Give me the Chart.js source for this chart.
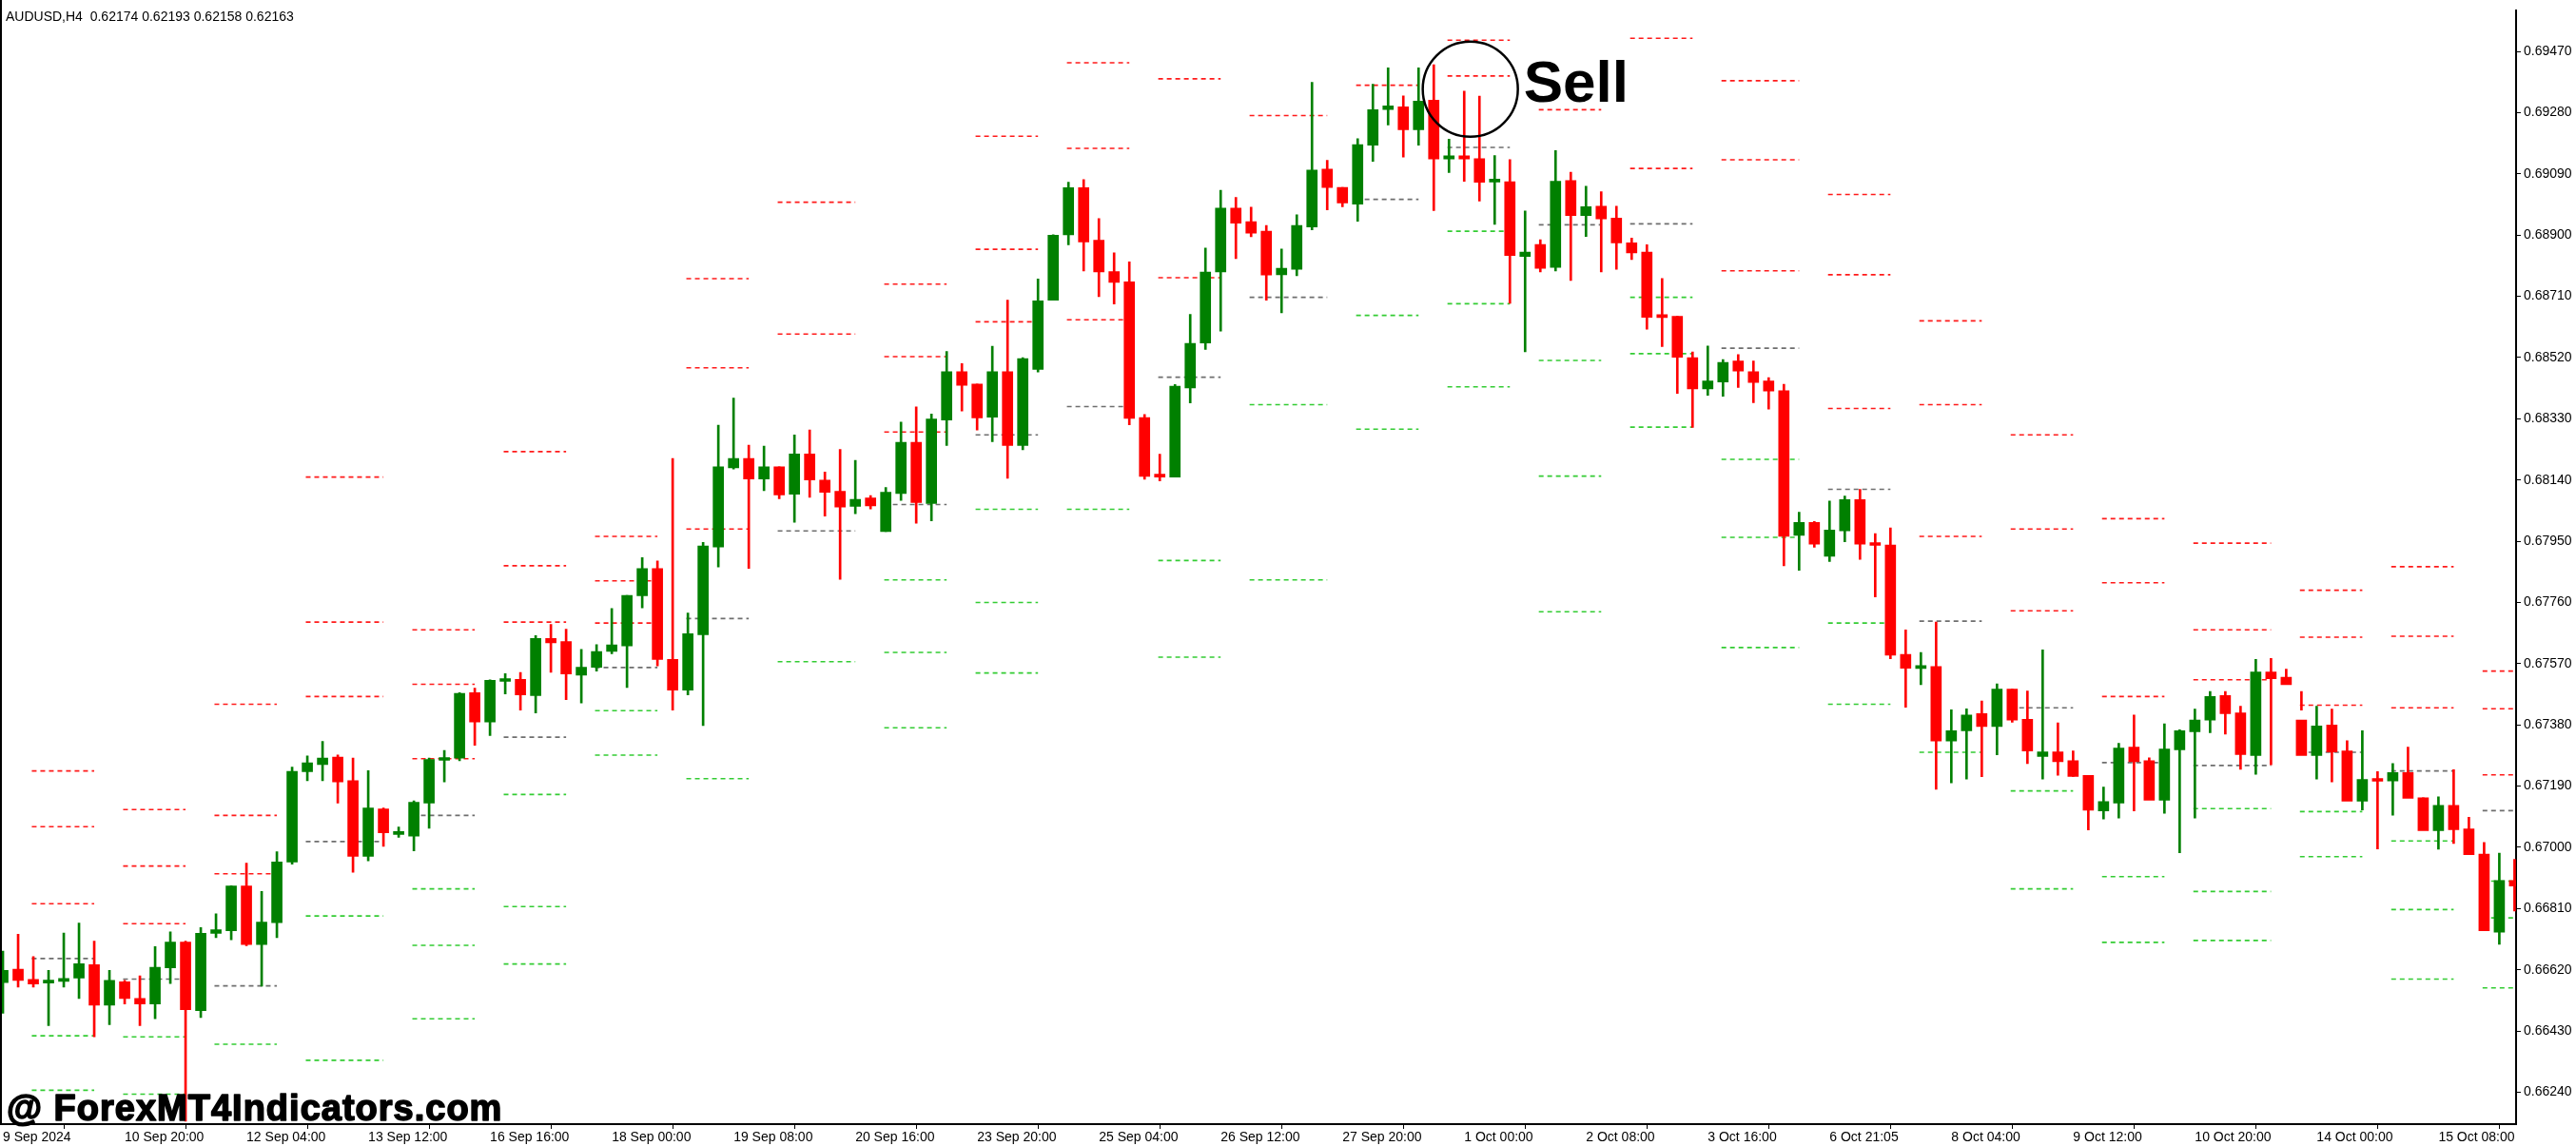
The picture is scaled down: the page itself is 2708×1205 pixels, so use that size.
<!DOCTYPE html>
<html><head><meta charset="utf-8">
<script src="https://cdn.jsdelivr.net/npm/chart.js@4"></script>
<style>html,body{margin:0;padding:0;background:#fff;}#wrap{width:2708px;height:1205px;position:relative;}</style>
</head><body><div id="wrap"><canvas id="c" width="2708" height="1205"></canvas></div>
<script>
const title = "AUDUSD,H4  0.62174 0.62193 0.62158 0.62163";
const watermark = "@ ForexMT4Indicators.com";
const signalText = "Sell";
const signalBar = 96.4, signalPrice = 0.69353;

const xTickBars = [0,8,16,24,32,40,48,56,64,72,80,88,96,104,112,120,128,136,144,152,160];
const xTickLabels = ["9 Sep 2024","10 Sep 20:00","12 Sep 04:00","13 Sep 12:00","16 Sep 16:00","18 Sep 00:00","19 Sep 08:00","20 Sep 16:00","23 Sep 20:00","25 Sep 04:00","26 Sep 12:00","27 Sep 20:00","1 Oct 00:00","2 Oct 08:00","3 Oct 16:00","6 Oct 21:05","8 Oct 04:00","9 Oct 12:00","10 Oct 20:00","14 Oct 00:00","15 Oct 08:00"];
const yTicks = [0.69470,0.69280,0.69090,0.68900,0.68710,0.68520,0.68330,0.68140,0.67950,0.67760,0.67570,0.67380,0.67190,0.67000,0.66810,0.66620,0.66430,0.66240];

const openP = [0.66580,0.66622,0.66590,0.66579,0.66584,0.66594,0.66636,0.66510,0.66583,0.66531,0.66514,0.66626,0.66706,0.66493,0.66733,0.66741,0.66880,0.66698,0.66766,0.66954,
0.67235,0.67257,0.67280,0.67207,0.66972,0.67119,0.67040,0.67035,0.67137,0.67270,0.67277,0.67480,0.67389,0.67515,0.67521,0.67471,0.67648,0.67639,0.67534,0.67559,
0.67608,0.67625,0.67781,0.67865,0.67583,0.67488,0.67660,0.67932,0.68178,0.68207,0.68143,0.68181,0.68096,0.68221,0.68140,0.68105,0.68058,0.68084,0.67980,0.68098,
0.68257,0.68067,0.68326,0.68476,0.68438,0.68335,0.68476,0.68247,0.68483,0.68698,0.68901,0.69047,0.68884,0.68787,0.68755,0.68334,0.68155,0.68149,0.68426,0.68565,
0.68786,0.68984,0.68942,0.68912,0.68777,0.68794,0.68925,0.69105,0.69048,0.68996,0.69179,0.69290,0.69298,0.69227,0.69319,0.69136,0.69146,0.69137,0.69065,0.69066,
0.68834,0.68871,0.68800,0.69069,0.68961,0.68990,0.68953,0.68876,0.68847,0.68651,0.68648,0.68520,0.68423,0.68444,0.68509,0.68476,0.68447,0.68417,0.67968,0.68008,
0.67903,0.67982,0.68079,0.67941,0.67938,0.67599,0.67555,0.67561,0.67330,0.67362,0.67415,0.67375,0.67491,0.67397,0.67282,0.67296,0.67269,0.67223,0.67113,0.67137,
0.67311,0.67269,0.67146,0.67303,0.67359,0.67395,0.67471,0.67417,0.67285,0.67544,0.67528,0.67395,0.67285,0.67380,0.67299,0.67143,0.67209,0.67206,0.67232,0.67154,
0.67052,0.67130,0.67057,0.66979,0.66737,0.66897];
const highP = [0.66678,0.66730,0.66661,0.66618,0.66734,0.66765,0.66709,0.66618,0.66587,0.66601,0.66692,0.66738,0.66709,0.66751,0.66794,0.66881,0.66951,0.66863,0.66986,0.67249,
0.67284,0.67329,0.67287,0.67277,0.67238,0.67122,0.67063,0.67144,0.67277,0.67301,0.67480,0.67494,0.67520,0.67539,0.67543,0.67657,0.67692,0.67677,0.67614,0.67629,
0.67741,0.67782,0.67899,0.67889,0.68207,0.67727,0.67946,0.68310,0.68394,0.68248,0.68245,0.68181,0.68280,0.68295,0.68165,0.68235,0.68201,0.68092,0.68117,0.68320,
0.68367,0.68345,0.68539,0.68501,0.68438,0.68555,0.68698,0.68520,0.68764,0.68901,0.69064,0.69072,0.68951,0.68845,0.68817,0.68343,0.68220,0.68436,0.68654,0.68860,
0.69039,0.69017,0.68987,0.68930,0.68857,0.68963,0.69374,0.69132,0.69048,0.69199,0.69368,0.69419,0.69332,0.69419,0.69429,0.69198,0.69347,0.69331,0.69147,0.69134,
0.68975,0.68886,0.69162,0.69095,0.69052,0.69035,0.68990,0.68891,0.68870,0.68765,0.68648,0.68537,0.68556,0.68514,0.68529,0.68509,0.68458,0.68437,0.68040,0.68011,
0.68075,0.68090,0.68111,0.67974,0.67991,0.67675,0.67605,0.67699,0.67427,0.67430,0.67454,0.67507,0.67491,0.67485,0.67613,0.67386,0.67299,0.67223,0.67187,0.67323,
0.67411,0.67278,0.67383,0.67365,0.67429,0.67484,0.67484,0.67438,0.67583,0.67586,0.67553,0.67426,0.67438,0.67429,0.67331,0.67362,0.67235,0.67260,0.67311,0.67154,
0.67157,0.67241,0.67093,0.67015,0.66982,0.66963];
const lowP = [0.66485,0.66566,0.66566,0.66447,0.66566,0.66531,0.66412,0.66450,0.66514,0.66447,0.66468,0.66577,0.66150,0.66472,0.66720,0.66713,0.66695,0.66569,0.66720,0.66948,
0.67207,0.67207,0.67137,0.66923,0.66958,0.67003,0.67031,0.66989,0.67059,0.67203,0.67269,0.67317,0.67347,0.67476,0.67426,0.67417,0.67543,0.67458,0.67448,0.67547,
0.67601,0.67496,0.67743,0.67563,0.67426,0.67473,0.67378,0.67870,0.68174,0.67866,0.68107,0.68082,0.68009,0.68086,0.68028,0.67832,0.68035,0.68050,0.67980,0.68077,
0.68006,0.68013,0.68247,0.68354,0.68295,0.68259,0.68145,0.68234,0.68475,0.68698,0.68870,0.68789,0.68709,0.68686,0.68311,0.68142,0.68137,0.68149,0.68379,0.68545,
0.68602,0.68827,0.68895,0.68698,0.68659,0.68774,0.68916,0.68978,0.68988,0.68943,0.69129,0.69242,0.69142,0.69179,0.68976,0.69094,0.69067,0.69006,0.68933,0.68688,
0.68538,0.68786,0.68789,0.68759,0.68896,0.68786,0.68794,0.68824,0.68608,0.68554,0.68409,0.68303,0.68403,0.68400,0.68427,0.68380,0.68360,0.67874,0.67860,0.67931,
0.67887,0.67948,0.67894,0.67777,0.67585,0.67435,0.67505,0.67180,0.67200,0.67212,0.67219,0.67287,0.67388,0.67260,0.67212,0.67224,0.67220,0.67054,0.67088,0.67091,
0.67113,0.67235,0.67106,0.66983,0.67091,0.67356,0.67351,0.67242,0.67227,0.67256,0.67523,0.67484,0.67212,0.67203,0.67276,0.67116,0.66995,0.67100,0.67185,0.67140,
0.66994,0.67012,0.66995,0.66968,0.66699,0.66802];
const closeP = [0.66618,0.66587,0.66576,0.66587,0.66593,0.66639,0.66510,0.66587,0.66531,0.66514,0.66628,0.66706,0.66496,0.66733,0.66744,0.66880,0.66698,0.66768,0.66955,0.67236,
0.67262,0.67277,0.67203,0.66972,0.67122,0.67045,0.67046,0.67140,0.67273,0.67277,0.67478,0.67389,0.67518,0.67520,0.67473,0.67648,0.67635,0.67538,0.67559,0.67608,
0.67628,0.67782,0.67865,0.67583,0.67488,0.67663,0.67935,0.68181,0.68207,0.68143,0.68181,0.68094,0.68221,0.68140,0.68102,0.68056,0.68080,0.68060,0.68102,0.68257,
0.68070,0.68329,0.68476,0.68434,0.68333,0.68476,0.68247,0.68517,0.68696,0.68900,0.69047,0.68879,0.68786,0.68753,0.68331,0.68151,0.68149,0.68431,0.68564,0.68785,
0.68984,0.68937,0.68906,0.68776,0.68797,0.68930,0.69102,0.69048,0.69000,0.69181,0.69289,0.69301,0.69227,0.69316,0.69136,0.69146,0.69136,0.69064,0.69069,0.68837,
0.68847,0.68797,0.69067,0.68961,0.68988,0.68950,0.68876,0.68845,0.68645,0.68644,0.68521,0.68423,0.68447,0.68505,0.68478,0.68443,0.68416,0.67965,0.68008,0.67941,
0.67985,0.68079,0.67941,0.67937,0.67596,0.67556,0.67559,0.67330,0.67362,0.67411,0.67375,0.67491,0.67395,0.67299,0.67296,0.67266,0.67220,0.67115,0.67142,0.67308,
0.67266,0.67146,0.67305,0.67362,0.67395,0.67468,0.67415,0.67288,0.67544,0.67523,0.67505,0.67285,0.67377,0.67296,0.67143,0.67211,0.67205,0.67232,0.67152,0.67052,
0.67130,0.67055,0.66977,0.66741,0.66897,0.66880];

const pivotStart = [2,8,14,20,27,33,39,45,51,58,64,70,76,82,89,95,101,107,113,120,126,132,138,144,151,157,163];
const pivotEnd   = [6,12,18,25,31,37,43,49,56,62,68,74,80,87,93,99,105,111,118,124,130,136,142,149,155,161,165.3];
const pivotRes = [[0.67237,0.67064,0.66825],[0.67117,0.66942,0.66763],[0.67444,0.67099,0.66918],[0.68149,0.67699,0.67468],[0.67675,0.67506,0.67275],
[0.68228,0.67874,0.67699],[0.67965,0.67827,0.67696],[0.68765,0.68488,0.67988],[0.69002,0.68593],[0.68748,0.68523,0.68289],
[0.69207,0.68856,0.68631],[0.69435,0.69169,0.68637],[0.69385,0.68768],[0.69271],[0.69365],[0.69505,0.69394],[0.69289],[0.69511,0.69107],
[0.69379,0.69134,0.68789],[0.69026,0.68777,0.68362],[0.68634,0.68374,0.67965],[0.68280,0.67988,0.67734],[0.68020,0.67821,0.67468],
[0.67944,0.67675,0.67520],[0.67798,0.67652,0.67441],[0.67871,0.67655,0.67433],[0.67547,0.67430,0.67225]];
const pivotMid = [0.66655,0.66591,0.66570,0.67018,0.67099,0.67342,0.67558,0.67710,0.67982,0.68064,0.68280,0.68368,0.68459,0.68707,0.69011,0.69172,
0.68932,0.68935,0.68549,0.68111,0.67702,0.67433,0.67263,0.67254,0.67295,0.67237,0.67114];
const pivotSup = [[0.66415,0.66246],[0.66412,0.66234],[0.66389],[0.66787,0.66339],[0.66871,0.66696,0.66468],[0.67164,0.66816,0.66638],
[0.67424,0.67286],[0.67213],[0.67576],[0.67830,0.67605,0.67371],[0.68049,0.67760,0.67541],[0.68049],[0.67890,0.67590],[0.68374,0.67830],
[0.68651,0.68298],[0.68912,0.68687,0.68429],[0.68511,0.68152,0.67731],[0.68707,0.68532,0.68304],[0.68204,0.67962,0.67620],[0.67696,0.67444],
[0.67295],[0.67175,0.66871],[0.66909,0.66705],[0.67120,0.66863,0.66711],[0.67111,0.66971],[0.67020,0.66807,0.66591],[0.66895,0.66781,0.66564]];

const UP='#008000', DN='#ff0000';
const cols = openP.map((o,i)=> closeP[i] >= o ? UP : DN);
const datasets = [];
datasets.push({type:'bar', data: openP.map((o,i)=>({x:i, y:[o, closeP[i]]})), backgroundColor: cols, borderWidth:0,
  barThickness: 11, minBarLength: 3, grouped:false, order:0});
datasets.push({type:'bar', data: openP.map((o,i)=>({x:i, y:[lowP[i], highP[i]]})), backgroundColor: cols, borderWidth:0,
  barThickness: 2, grouped:false, order:1});
function seg(s,e,v,color){
  datasets.push({type:'line', data:[{x:s,y:v},{x:e,y:v}], borderColor:color, borderWidth:1.6, borderDash:[5,4],
    pointRadius:0, fill:false, order:2, tension:0});
}
pivotStart.forEach((s,k)=>{
  const e = pivotEnd[k];
  pivotRes[k].forEach(v=>seg(s-0.1,e,v,'#ff1a1a'));
  seg(s-0.1,e,pivotMid[k],'#6e6e6e');
  pivotSup[k].forEach(v=>seg(s-0.1,e,v,'#33cc33'));
});

const deco = {
  id:'deco',
  afterDraw(chart){
    const ctx = chart.ctx, xs = chart.scales.x, ys = chart.scales.y, a = chart.chartArea;
    ctx.save();
    ctx.strokeStyle='#000'; ctx.lineWidth=2;
    ctx.beginPath(); ctx.moveTo(1,0); ctx.lineTo(1,a.bottom); ctx.stroke();
    ctx.fillStyle='#000'; ctx.font='14px "Liberation Sans", Arial'; ctx.textBaseline='alphabetic'; ctx.textAlign='left';
    ctx.fillText(title, 6, 22);
    const cx = xs.getPixelForValue(signalBar), cy = ys.getPixelForValue(signalPrice);
    ctx.lineWidth=2.5; ctx.beginPath(); ctx.arc(cx, cy, 50, 0, Math.PI*2); ctx.stroke();
    ctx.font='bold 62px "Liberation Sans", Arial'; ctx.fillText(signalText, cx+56, cy+13);
    ctx.font='bold 38px "Liberation Sans", Arial';
    try { ctx.letterSpacing = '1px'; } catch(e) {}
    ctx.lineWidth = 1.6; ctx.lineJoin='round';
    ctx.fillText(watermark, 7, 1178); ctx.strokeText(watermark, 7, 1178);
    ctx.restore();
  }
};

new Chart(document.getElementById('c'), {
  data:{datasets},
  options:{
    responsive:false, animation:false, devicePixelRatio:1,
    layout:{padding:0},
    plugins:{legend:{display:false}, tooltip:{enabled:false}},
    scales:{
      x:{type:'linear', min:-0.19, max:165.1, offset:false,
        afterFit(s){ s.height = 23; },
        afterBuildTicks(s){ s.ticks = xTickBars.map(v=>({value:v})); },
        ticks:{autoSkip:false, maxRotation:0, align:'start', padding:1, color:'#000',
          font:{family:'"Liberation Sans", Arial', size:14},
          callback:(v)=>{ const k = xTickBars.indexOf(v); return k>=0 ? xTickLabels[k] : ''; }},
        grid:{display:true, drawOnChartArea:false, drawTicks:true, tickLength:5, color:'#000'},
        border:{display:true, color:'#000', width:2}},
      y:{type:'linear', position:'right', min:0.66141, max:0.69596,
        afterFit(s){ s.width = 63; },
        afterBuildTicks(s){ s.ticks = yTicks.map(v=>({value:v})); },
        ticks:{padding:3, color:'#000', font:{family:'"Liberation Sans", Arial', size:14},
          callback:(v)=>Number(v).toFixed(5)},
        grid:{display:true, drawOnChartArea:false, drawTicks:true, tickLength:5, color:'#000'},
        border:{display:true, color:'#000', width:2}}
    }
  },
  plugins:[deco]
});
</script></body></html>
